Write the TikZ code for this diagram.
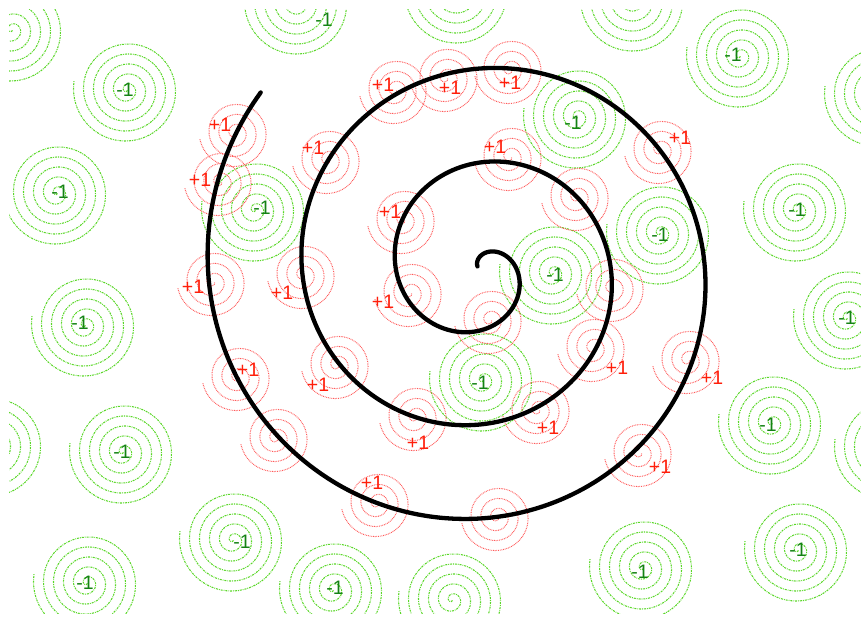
\documentclass[tikz,border=0pt]{standalone}
\usepackage{fontspec}
\setmainfont{Liberation Sans}
\definecolor{glight}{RGB}{90,215,40}
\definecolor{gdark}{RGB}{20,130,20}
\definecolor{rlight}{RGB}{255,90,90}
\definecolor{rdark}{RGB}{255,30,10}
\tikzset{
  gline/.style={glight,line width=1.05pt,dash pattern=on 2pt off 1pt on 0.8pt off 1pt},
  rline/.style={rlight,line width=1pt,dash pattern=on 0.8pt off 0.9pt},
  bigspiral/.style={black,line width=4.3pt,line cap=round},
  glabel/.style={gdark,font=\fontsize{19.5}{19.5}\selectfont,inner sep=0pt},
  plabel/.style={rdark,font=\fontsize{19.5}{19.5}\selectfont,inner sep=0pt}
}
\newcommand\GSpiral[2]{\draw[gline] plot[domain=60:1990,samples=200,smooth] ({#1+(\x/36-1.5)*cos(\x)},{#2+(\x/36-1.5)*sin(\x)});}
\newcommand\RSpiral[2]{\draw[rline] plot[domain=20:1250,samples=130,smooth] ({#1+(\x/36+1)*cos(\x)},{#2+(\x/36+1)*sin(\x)});}
\begin{document}
\begin{tikzpicture}[x=1pt,y=-1pt]
\useasboundingbox (0,0) rectangle (861,617);
\begin{scope}
\clip (9,10) rectangle (861,613);
% green spirals
\GSpiral{12}{30}
\GSpiral{298}{3}
\GSpiral{458}{-8}
\GSpiral{634}{0}
\GSpiral{740}{56}
\GSpiral{878}{95}
\GSpiral{127}{90}
\GSpiral{577}{117}
\GSpiral{57}{193}
\GSpiral{255}{210}
\GSpiral{797}{210}
\GSpiral{660}{233}
\GSpiral{553}{273}
\GSpiral{85}{325}
\GSpiral{847}{318}
\GSpiral{483}{380}
\GSpiral{772}{423}
\GSpiral{-8}{445}
\GSpiral{888}{448}
\GSpiral{123}{452}
\GSpiral{233}{540}
\GSpiral{798}{550}
\GSpiral{87}{583}
\GSpiral{333}{590}
\GSpiral{452}{600}
\GSpiral{643}{568}
% red spirals
\RSpiral{395}{90}
\RSpiral{446}{78}
\RSpiral{510}{70}
\RSpiral{235}{133}
\RSpiral{328}{160}
\RSpiral{510}{157}
\RSpiral{660}{150}
\RSpiral{220}{182}
\RSpiral{403}{220}
\RSpiral{213}{282}
\RSpiral{303}{275}
\RSpiral{410}{293}
\RSpiral{238}{377}
\RSpiral{337}{365}
\RSpiral{593}{348}
\RSpiral{688}{360}
\RSpiral{415}{417}
\RSpiral{538}{410}
\RSpiral{640}{453}
\RSpiral{377}{503}
\RSpiral{577}{197}
\RSpiral{612}{288}
\RSpiral{490}{320}
\RSpiral{276}{438}
\RSpiral{497}{517}
% main spiral
\draw[bigspiral] plot[domain=-125:939,samples=400,smooth] ({480+(37+\x/360*94)*cos(\x)},{270+(37+\x/360*94)*sin(\x)});
% labels
\node[glabel] (g1) at (324,20) {-1};
\node[glabel] (g2) at (733,55) {-1};
\node[glabel] (g3) at (125,90) {-1};
\node[glabel] (g4) at (573,123) {-1};
\node[glabel] (g5) at (60,192) {-1};
\node[glabel] (g6) at (262,208) {-1};
\node[glabel] (g7) at (797,210) {-1};
\node[glabel] (g8) at (660,235) {-1};
\node[glabel] (g9) at (555,275) {-1};
\node[glabel] (g10) at (80,323) {-1};
\node[glabel] (g11) at (847,318) {-1};
\node[glabel] (g12) at (480,383) {-1};
\node[glabel] (g13) at (768,425) {-1};
\node[glabel] (g14) at (122,452) {-1};
\node[glabel] (g15) at (242,542) {-1};
\node[glabel] (g16) at (798,550) {-1};
\node[glabel] (g17) at (85,583) {-1};
\node[glabel] (g18) at (335,588) {-1};
\node[glabel] (g19) at (640,572) {-1};
\node[plabel] (p1) at (383,85) {+1};
\node[plabel] (p2) at (450,88) {+1};
\node[plabel] (p3) at (510,83) {+1};
\node[plabel] (p4) at (220,125) {+1};
\node[plabel] (p5) at (313,148) {+1};
\node[plabel] (p6) at (495,147) {+1};
\node[plabel] (p7) at (680,138) {+1};
\node[plabel] (p8) at (200,180) {+1};
\node[plabel] (p9) at (390,212) {+1};
\node[plabel] (p10) at (193,287) {+1};
\node[plabel] (p11) at (282,293) {+1};
\node[plabel] (p12) at (383,302) {+1};
\node[plabel] (p13) at (248,370) {+1};
\node[plabel] (p14) at (318,385) {+1};
\node[plabel] (p15) at (617,368) {+1};
\node[plabel] (p16) at (712,378) {+1};
\node[plabel] (p17) at (418,443) {+1};
\node[plabel] (p18) at (548,428) {+1};
\node[plabel] (p19) at (660,467) {+1};
\node[plabel] (p20) at (372,483) {+1};
\end{scope}
\end{tikzpicture}
\end{document}
